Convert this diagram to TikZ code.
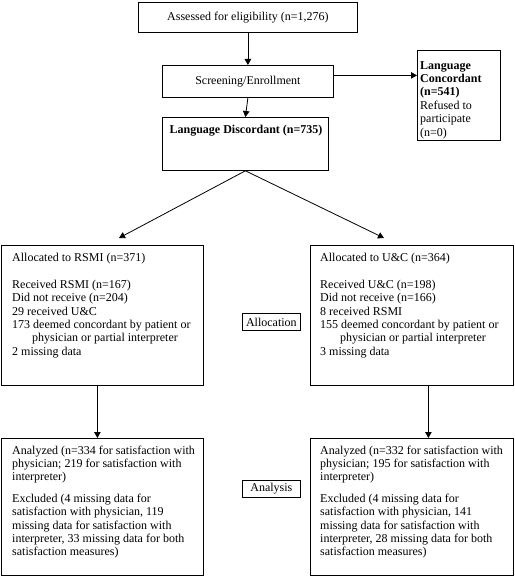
\documentclass[tikz,border=0pt]{standalone}
\usepackage{fontspec}
\setmainfont{Liberation Serif}
\usetikzlibrary{arrows.meta}
\begin{document}
\begin{tikzpicture}[x=1pt,y=-1pt,
  box/.style={draw, line width=0.8pt, inner sep=0pt, anchor=north west,
    font=\fontsize{12}{13.4}\selectfont},
  txt/.style={inner sep=0pt, anchor=north west, align=left,
    font=\fontsize{12}{13.4}\selectfont},
  arr/.style={-{Triangle[length=6pt,width=6.5pt]}, line width=0.8pt},
  ln/.style={line width=0.8pt}]
\fill[white] (0,0) rectangle (514,578);
\useasboundingbox (0,0) rectangle (514,578);

% top column
\node[box, minimum width=219pt, minimum height=30pt] (assess) at (138,2) {Assessed for eligibility (n=1,276)};
\node[box, minimum width=171pt, minimum height=32pt] (screen) at (162,65) {Screening/Enrollment};
\node[box, minimum width=166pt, minimum height=53pt] (disc) at (162,117) {};
\node[txt, anchor=center, font=\fontsize{12}{13.4}\selectfont\bfseries] (discT) at (246,130.5) {Language Discordant (n=735)};

\node[box, minimum width=83pt, minimum height=90pt] (conc) at (417,50) {};
\node[txt] (concT) at (420,61) {\textbf{Language}\\\textbf{Concordant}\\\textbf{(n=541)}\\Refused to\\participate\\(n=0)};

% allocation boxes
\node[box, minimum width=202pt, minimum height=140pt] (allocL) at (1,245) {};
\node[txt] (allocLT) at (12,253) {Allocated to RSMI (n=371)\\[13.4pt]Received RSMI (n=167)\\Did not receive (n=204)\\29 received U\&C\\173 deemed concordant by patient or\\\hspace*{20pt}physician or partial interpreter\\2 missing data};

\node[box, minimum width=203pt, minimum height=140pt] (allocR) at (310,245) {};
\node[txt] (allocRT) at (320,253) {Allocated to U\&C (n=364)\\[13.4pt]Received U\&C (n=198)\\Did not receive (n=166)\\8 received RSMI\\155 deemed concordant by patient or\\\hspace*{20pt}physician or partial interpreter\\3 missing data};

\node[box, minimum width=58pt, minimum height=17pt] (allocM) at (242,313) {Allocation};

% analysis boxes
\node[box, minimum width=202pt, minimum height=137pt] (anaL) at (1,438) {};
\node[txt] (anaLT) at (12,445.5) {Analyzed (n=334 for satisfaction with\\physician; 219 for satisfaction with\\interpreter)\\[8pt]Excluded (4 missing data for\\satisfaction with physician, 119\\missing data for satisfaction with\\interpreter, 33 missing data for both\\satisfaction measures)};

\node[box, minimum width=203pt, minimum height=137pt] (anaR) at (310,438) {};
\node[txt] (anaRT) at (320,445.5) {Analyzed (n=332 for satisfaction with\\physician; 195 for satisfaction with\\interpreter)\\[8pt]Excluded (4 missing data for\\satisfaction with physician, 141\\missing data for satisfaction with\\interpreter, 28 missing data for both\\satisfaction measures)};

\node[box, minimum width=58pt, minimum height=17pt] (anaM) at (242,480) {Analysis};

% connectors
\draw[arr] (assess.south) -- (screen.north);
\draw[arr] (screen.south) -- (disc.north);
\draw[arr] ([yshift=6pt]screen.east) -- ([yshift=6pt]screen.east -| conc.west);
\coordinate (tipL) at (119,238);
\coordinate (tipR) at (384,238);
\draw[arr] (disc.south) -- (tipL);
\draw[arr] (disc.south) -- (tipR);
\draw[arr] ([xshift=-5pt]allocL.south) -- ([xshift=-5pt]anaL.north);
\draw[arr] ([xshift=16.5pt]allocR.south) -- ([xshift=16.5pt]anaR.north);
\end{tikzpicture}
\end{document}
